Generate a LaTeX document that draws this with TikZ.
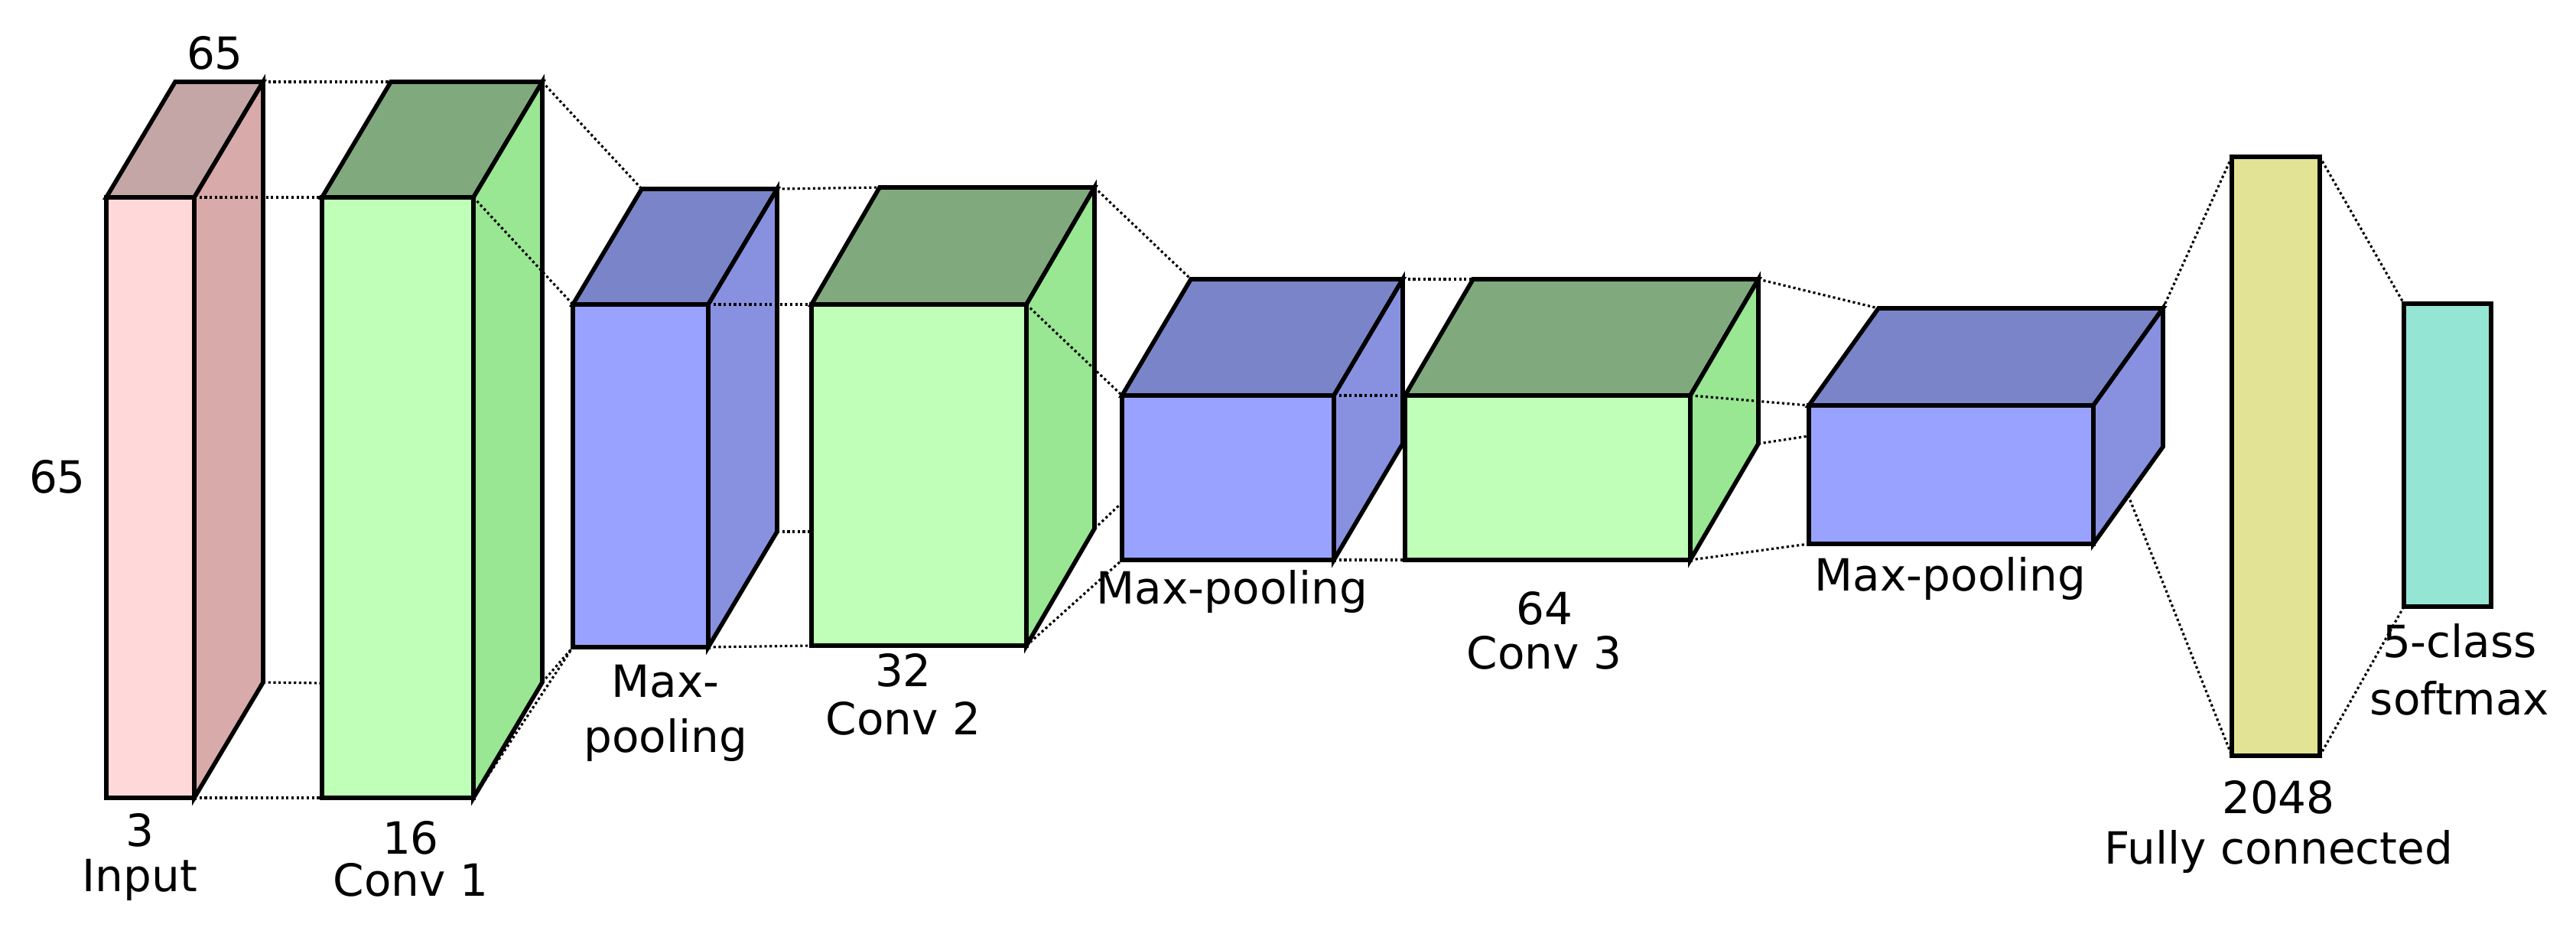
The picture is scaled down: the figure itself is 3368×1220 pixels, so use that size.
\documentclass[tikz,border=0pt]{standalone}
\usepackage{fontspec}
\setmainfont{DejaVu Sans}
\definecolor{inF}{HTML}{FFD9D9}\definecolor{inT}{HTML}{C4A6A6}\definecolor{inS}{HTML}{D9AAAA}
\definecolor{gF}{HTML}{BFFFB8}\definecolor{gT}{HTML}{80AA7E}\definecolor{gS}{HTML}{99E693}
\definecolor{bF}{HTML}{99A3FF}\definecolor{bT}{HTML}{7A84C8}\definecolor{bS}{HTML}{8891E0}
\definecolor{fcC}{HTML}{E2E395}\definecolor{smC}{HTML}{95E5D4}
\tikzset{edge/.style={line width=1.6pt,line join=miter},
 conn/.style={densely dotted,line width=0.9pt},
 lab/.style={font=\fontsize{16.5}{18}\selectfont,align=center,inner sep=0pt}}
% #1 name, #2 x, #3 y (front top-left), #4 w, #5 h, #6 dx, #7 dy, #8 color prefix
\newcommand\mycuboid[8]{%
 \coordinate (#1-ftl) at (#2,#3);
 \coordinate (#1-ftr) at (#2+#4,#3);
 \coordinate (#1-fbl) at (#2,#3+#5);
 \coordinate (#1-fbr) at (#2+#4,#3+#5);
 \coordinate (#1-btl) at (#2+#6,#3-#7);
 \coordinate (#1-btr) at (#2+#4+#6,#3-#7);
 \coordinate (#1-bbr) at (#2+#4+#6,#3+#5-#7);
 \coordinate (#1-sm) at (#2+#4+#6/2,#3+#5-#7/2);
}
\newcommand\mydraw[2]{%
 \filldraw[edge,fill=#2F] (#1-ftl) rectangle (#1-fbr);
 \filldraw[edge,fill=#2T] (#1-ftl) -- (#1-btl) -- (#1-btr) -- (#1-ftr) -- cycle;
 \filldraw[edge,fill=#2S] (#1-ftr) -- (#1-btr) -- (#1-bbr) -- (#1-fbr) -- cycle;
}
\begin{document}
\begin{tikzpicture}[x=0.01cm,y=-0.01cm]
\useasboundingbox (0,0) rectangle (3368,1220);
\mycuboid{in}{139}{258}{115}{785}{90}{151}{inF}
\mycuboid{c1}{421}{258}{198}{785}{90}{151}{g}
\mycuboid{m1}{749}{398}{177}{448}{90}{151}{b}
\mycuboid{c2}{1061}{398}{281}{446}{89}{153}{g}
\mycuboid{m2}{1467}{517}{277}{215}{90}{152}{b}
\mycuboid{c3}{1837}{517}{373}{215}{89}{152}{g}
\mycuboid{m3}{2365}{530}{372}{181}{91}{127}{b}
\coordinate (fc-tl) at (2918,205); \coordinate (fc-br) at (3033,988);
\coordinate (fc-tr) at (3033,205); \coordinate (fc-bl) at (2918,988);
\coordinate (sm-tl) at (3143,397); \coordinate (sm-br) at (3257,793);
\coordinate (sm-bl) at (3143,793);
\coordinate (c1-p) at (421,893); \coordinate (c2-p) at (1061,695);
\coordinate (m2-p) at (1467,657); \coordinate (m3-p) at (2365,570);
% boxes
\mydraw{in}{in}\mydraw{c1}{g}\mydraw{m1}{b}\mydraw{c2}{g}
\mydraw{m2}{b}\mydraw{c3}{g}\mydraw{m3}{b}
\filldraw[edge,fill=fcC] (fc-tl) rectangle (fc-br);
\filldraw[edge,fill=smC] (sm-tl) rectangle (sm-br);
% connectors
\draw[conn] (in-btr) -- (c1-btl); \draw[conn] (in-ftr) -- (c1-ftl);
\draw[conn] (in-bbr) -- (c1-p); \draw[conn] (in-fbr) -- (c1-fbl);
\draw[conn] (c1-btr) -- (m1-btl); \draw[conn] (c1-ftr) -- (m1-ftl);
\draw[conn] (c1-bbr) -- (m1-fbl); \draw[conn] (c1-fbr) -- (m1-fbl);
\draw[conn] (m1-btr) -- (c2-btl); \draw[conn] (m1-ftr) -- (c2-ftl);
\draw[conn] (m1-bbr) -- (c2-p); \draw[conn] (m1-fbr) -- (c2-fbl);
\draw[conn] (c2-btr) -- (m2-btl); \draw[conn] (c2-ftr) -- (m2-ftl);
\draw[conn] (c2-bbr) -- (m2-p); \draw[conn] (c2-fbr) -- (m2-fbl);
\draw[conn] (m2-btr) -- (c3-btl); \draw[conn] (m2-ftr) -- (c3-ftl);
\draw[conn] (m2-fbr) -- (c3-fbl);
\draw[conn] (c3-btr) -- (m3-btl); \draw[conn] (c3-ftr) -- (m3-ftl);
\draw[conn] (c3-bbr) -- (m3-p); \draw[conn] (c3-fbr) -- (m3-fbl);
\draw[conn] (m3-btr) -- (fc-tl); \draw[conn] (m3-sm) -- (fc-bl);
\draw[conn] (fc-tr) -- (sm-tl); \draw[conn] (fc-br) -- (sm-bl);
% labels
\node[lab] (t65a) at (281,69) {65};
\node[lab] (t65b) at (75,623) {65};
\node[lab] (t3) at (183,1085) {3};
\node[lab] (tin) at (183,1150) {Input};
\node[lab] (t16) at (537,1095) {16};
\node[lab] (tc1) at (537,1150) {Conv 1};
\node[lab] (tm1a) at (870,891) {Max-};
\node[lab] (tm1b) at (870,967) {pooling};
\node[lab] (t32) at (1181,876) {32};
\node[lab] (tc2) at (1181,939) {Conv 2};
\node[lab] (tm2) at (1611,773) {Max-pooling};
\node[lab] (t64) at (2019,795) {64};
\node[lab] (tc3) at (2019,853) {Conv 3};
\node[lab] (tm3) at (2550,756) {Max-pooling};
\node[lab] (t2048) at (2979,1042) {2048};
\node[lab] (tfc) at (2979,1113) {Fully connected};
\node[lab] (tsma) at (3216,838) {5-class};
\node[lab] (tsmb) at (3216,913) {softmax};
\end{tikzpicture}
\end{document}
